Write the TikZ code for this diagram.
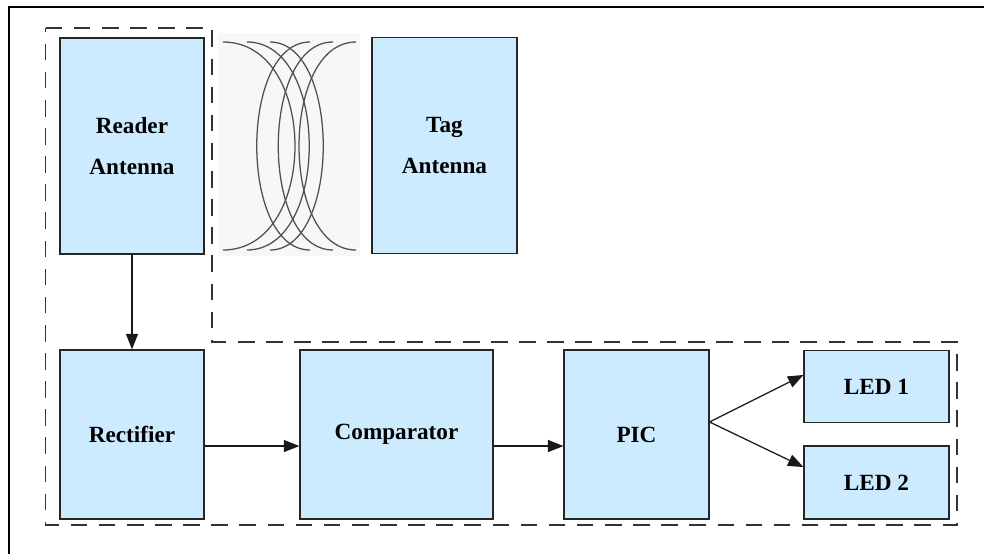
\documentclass[tikz,border=0pt]{standalone}
\usepackage{fontspec}
\setmainfont{Liberation Serif}
\usetikzlibrary{arrows.meta}
\definecolor{boxblue}{RGB}{204,235,255}
\definecolor{coilgray}{RGB}{80,80,80}

\begin{document}
\begin{tikzpicture}[x=0.025cm, y=-0.025cm,
                block/.style={draw=black!85, line width=0.9pt, fill=boxblue, align=center,
                              font=\bfseries\fontsize{16.5}{29}\selectfont, inner sep=0pt},
                link/.style={draw=black!90, line width=0.9pt, -{Triangle[length=11pt, width=8.5pt]}},
                group/.style={draw=black!80, line width=1pt, dash pattern=on 11.8pt off 8.2pt}]
                \useasboundingbox (0,0) rectangle (984,554);
                % frame
                \draw[line width=1.2pt] (9,554) -- (9,7) -- (984,7);
                % reader side and receiver side
                \draw[group] (45.7,28) -- (212,28) -- (212,342) -- (957,342) -- (957,525) -- (45.7,525) -- cycle;
                \node[block, minimum width=102.4pt, minimum height=153.6pt] (reader) at (132,146) {Reader\\Antenna};
                \node[block, minimum width=103pt, minimum height=154pt] (tag) at (444.5,145.5) {Tag\\Antenna};
                % coupling coils
                \fill[black!3] (218,33) rectangle (360,256);
                \foreach \e/\c in {223/319, 247/330, 270/341, 310/239, 333/260, 356/280}
                    \draw[coilgray, line width=0.9pt] (\e,42) .. controls (\c,42) and (\c,250) .. (\e,250);
                \node[block, minimum width=102.4pt, minimum height=120.2pt] (rect) at (132,434.5) {Rectifier};
                \node[block, minimum width=137.3pt, minimum height=120.2pt] (comp) at (396.5,434.5) {Comparator};
                \node[block, minimum width=103pt, minimum height=120.2pt] (pic) at (636.5,434.5) {PIC};
                \node[block, minimum width=103pt, minimum height=51.2pt] (led1) at (876.5,386.5) {LED 1};
                \node[block, minimum width=103pt, minimum height=51.9pt] (led2) at (876.5,482.5) {LED 2};
                \draw[link] (reader) -- (rect);
                \draw[link] ([yshift=-8.2pt]rect.east) -- ([yshift=-8.2pt]comp.west);
                \draw[link] ([yshift=-8.2pt]comp.east) -- ([yshift=-8.2pt]pic.west);
                \draw[link] ([yshift=8.9pt]pic.east) -- ([yshift=8.2pt]led1.west);
                \draw[link] ([yshift=8.9pt]pic.east) -- ([yshift=11pt]led2.west);
            \end{tikzpicture}
\end{document}
